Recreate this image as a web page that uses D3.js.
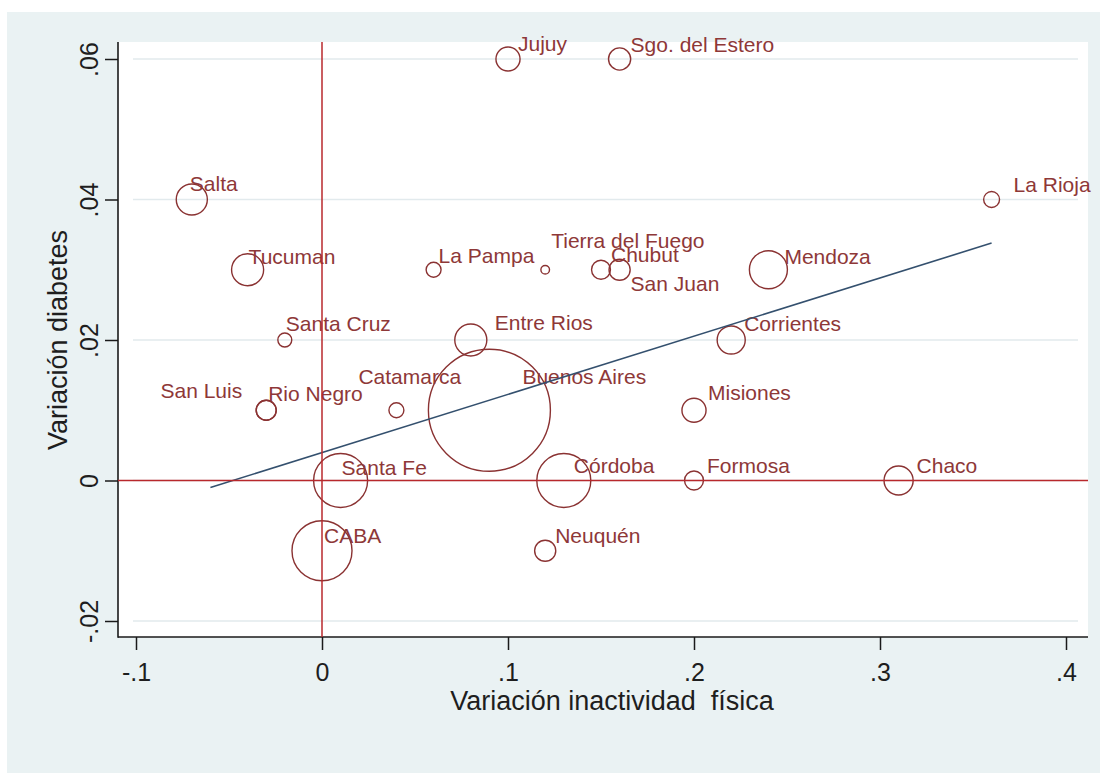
<!DOCTYPE html>
<html>
<head>
<meta charset="utf-8">
<script src="https://cdn.jsdelivr.net/npm/d3@7"></script>
<style>
  html, body { margin: 0; padding: 0; background: #ffffff; }
  svg { display: block; font-family: "Liberation Sans", Arial, sans-serif; }
</style>
</head>
<body>
<svg id="chart" width="1109" height="773"></svg>
<script>
// Provincias: variación de inactividad física vs. variación de diabetes
const provincias = ["Jujuy", "Sgo. del Estero", "Salta", "La Rioja", "Tucuman", "La Pampa",
  "Tierra del Fuego", "Chubut", "San Juan", "Mendoza", "Santa Cruz", "Entre Rios",
  "Corrientes", "San Luis", "Rio Negro", "Catamarca", "Buenos Aires", "Misiones",
  "Santa Fe", "Córdoba", "Formosa", "Chaco", "CABA", "Neuquén"];
const varInactividad = [0.10, 0.16, -0.07, 0.36, -0.04, 0.06,
  0.12, 0.15, 0.16, 0.24, -0.02, 0.08,
  0.22, -0.03, -0.03, 0.04, 0.09, 0.20,
  0.01, 0.13, 0.20, 0.31, 0.00, 0.12];
const varDiabetes = [0.06, 0.06, 0.04, 0.04, 0.03, 0.03,
  0.03, 0.03, 0.03, 0.03, 0.02, 0.02,
  0.02, 0.01, 0.01, 0.01, 0.01, 0.01,
  0.00, 0.00, 0.00, 0.00, -0.01, -0.01];
// peso relativo de cada jurisdicción (tamaño de burbuja)
const peso = [39, 33, 65, 17, 69, 15,
  5, 24, 30, 97, 13, 69,
  53, 27, 27, 15, 1000, 39,
  196, 196, 24, 57, 242, 30];

// recta de ajuste lineal (extremos)
const ajusteX = [-0.06, 0.36];
const ajusteY = [-0.001, 0.0338];

const xTicks = [-0.1, 0, 0.1, 0.2, 0.3, 0.4];
const xTickLabels = ["-.1", "0", ".1", ".2", ".3", ".4"];
const yTicks = [-0.02, 0, 0.02, 0.04, 0.06];
const yTickLabels = ["-.02", "0", ".02", ".04", ".06"];

const tituloX = "Variación inactividad  física";
const tituloY = "Variación diabetes";

// ---- layout ----
const W = 1109, H = 773;
const plot = { left: 118, top: 42, right: 1088, bottom: 637 };

const svg = d3.select("#chart");

const x = d3.scaleLinear().domain([-0.1, 0.4]).range([136, 1066]);
const y = d3.scaleLinear().domain([-0.02, 0.06]).range([621, 59]);
const r = d3.scaleSqrt().domain([0, 1000]).range([0, 61]);

// graph region and plot region
svg.append("rect").attr("x", 7).attr("y", 12).attr("width", 1093).attr("height", H - 12)
  .attr("fill", "#eaf2f3");
svg.append("rect").attr("x", plot.left).attr("y", plot.top)
  .attr("width", plot.right - plot.left).attr("height", plot.bottom - plot.top)
  .attr("fill", "#ffffff");

// horizontal grid
svg.append("g").selectAll("line").data(yTicks).join("line")
  .attr("x1", 133).attr("x2", 1078)
  .attr("y1", d => y(d)).attr("y2", d => y(d))
  .attr("stroke", "#e2eaed").attr("stroke-width", 1.5);

// axes
const yAxis = d3.axisLeft(y).tickValues(yTicks).tickSize(13)
  .tickFormat((d, i) => yTickLabels[i]);
const gy = svg.append("g").attr("transform", `translate(${plot.left},0)`).call(yAxis);
gy.select(".domain").remove();
gy.selectAll(".tick line").attr("stroke", "#1a1a1a").attr("stroke-width", 1.5);
gy.selectAll(".tick text")
  .attr("x", null).attr("dy", null)
  .attr("text-anchor", "middle")
  .attr("transform", "translate(-20,0) rotate(-90)")
  .attr("font-size", 25).attr("fill", "#1e1e1e")
  .attr("font-family", "Liberation Sans, Arial, sans-serif");

const xAxis = d3.axisBottom(x).tickValues(xTicks).tickSize(13).tickPadding(13)
  .tickFormat((d, i) => xTickLabels[i]);
const gx = svg.append("g").attr("transform", `translate(0,${plot.bottom})`).call(xAxis);
gx.select(".domain").remove();
gx.selectAll(".tick line").attr("stroke", "#1a1a1a").attr("stroke-width", 1.5);
gx.selectAll(".tick text").attr("font-size", 25).attr("fill", "#1e1e1e")
  .attr("font-family", "Liberation Sans, Arial, sans-serif");

// axis lines
svg.append("line").attr("x1", plot.left).attr("x2", plot.left)
  .attr("y1", plot.top).attr("y2", plot.bottom + 0.75)
  .attr("stroke", "#1a1a1a").attr("stroke-width", 1.6);
svg.append("line").attr("x1", plot.left).attr("x2", plot.right)
  .attr("y1", plot.bottom).attr("y2", plot.bottom)
  .attr("stroke", "#1a1a1a").attr("stroke-width", 1.6);

// axis titles
svg.append("text").attr("x", 612).attr("y", 710)
  .attr("text-anchor", "middle").attr("font-size", 27).attr("fill", "#1e1e1e")
  .attr("xml:space", "preserve").style("white-space", "pre")
  .text(tituloX);
svg.append("text").attr("transform", "translate(67,340) rotate(-90)")
  .attr("text-anchor", "middle").attr("font-size", 27).attr("fill", "#1e1e1e")
  .text(tituloY);

// bubbles
const datos = provincias.map((p, i) => ({
  nombre: p, x: varInactividad[i], y: varDiabetes[i], w: peso[i]
}));

svg.append("g").selectAll("circle").data(datos).join("circle")
  .attr("cx", d => x(d.x)).attr("cy", d => y(d.y)).attr("r", d => r(d.w))
  .attr("fill", "none").attr("stroke", "#8a3232").attr("stroke-width", 1.4);

// label placement around each marker: [dx, dy, anchor]
const ubicacion = {
  "Jujuy": [10, -8], "Sgo. del Estero": [11, -7], "Salta": [-2, -9], "La Rioja": [22, -8],
  "Tucuman": [1, -6], "La Pampa": [5, -7], "Tierra del Fuego": [6, -22], "Chubut": [10, -8],
  "San Juan": [11, 21], "Mendoza": [16, -6], "Santa Cruz": [1, -9], "Entre Rios": [24, -10],
  "Corrientes": [13, -9], "San Luis": [-24, -12, "end"], "Rio Negro": [2, -9],
  "Catamarca": [-38, -26], "Buenos Aires": [33, -26], "Misiones": [14, -10],
  "Santa Fe": [1, -6], "Córdoba": [10, -8], "Formosa": [13, -8], "Chaco": [18, -8],
  "CABA": [2, -8], "Neuquén": [10, -8]
};

svg.append("g").selectAll("text").data(datos).join("text")
  .attr("x", d => x(d.x) + ubicacion[d.nombre][0])
  .attr("y", d => y(d.y) + ubicacion[d.nombre][1])
  .attr("text-anchor", d => ubicacion[d.nombre][2] || "start")
  .attr("font-size", 21).attr("fill", "#8e3838")
  .text(d => d.nombre);

// fitted line
const lineaAjuste = d3.line().x(d => x(d[0])).y(d => y(d[1]));
svg.append("path").datum(ajusteX.map((v, i) => [v, ajusteY[i]]))
  .attr("d", lineaAjuste).attr("fill", "none")
  .attr("stroke", "#34506e").attr("stroke-width", 1.6);

// reference lines at zero
svg.append("line").attr("x1", x(0)).attr("x2", x(0))
  .attr("y1", plot.top).attr("y2", plot.bottom)
  .attr("stroke", "#b8282c").attr("stroke-width", 1.5);
svg.append("line").attr("x1", plot.left).attr("x2", plot.right)
  .attr("y1", y(0)).attr("y2", y(0))
  .attr("stroke", "#b8282c").attr("stroke-width", 1.5);
</script>
</body>
</html>
